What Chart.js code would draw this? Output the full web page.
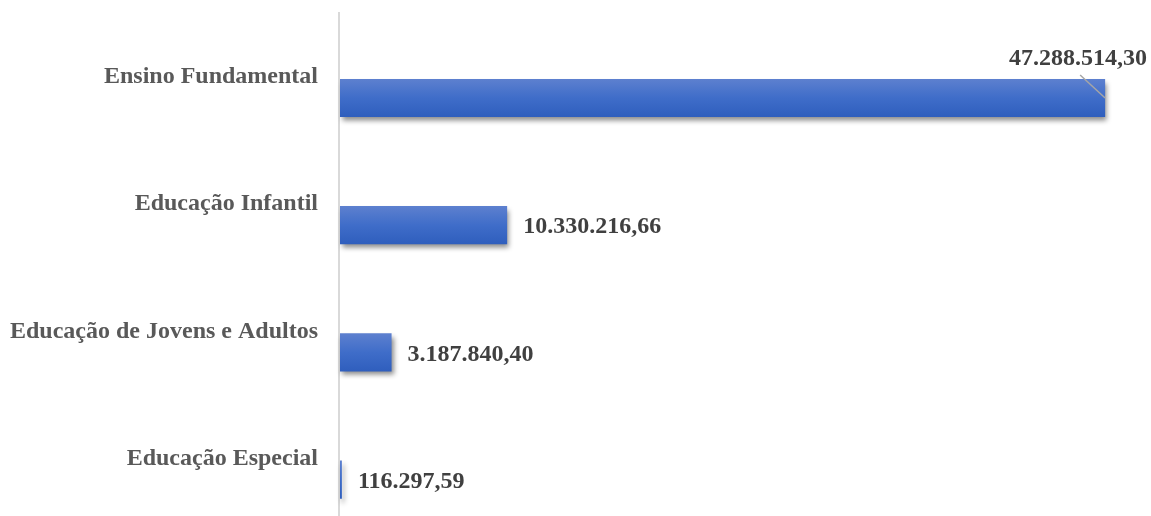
<!DOCTYPE html>
<html lang="pt-BR">
<head>
<meta charset="utf-8">
<title>Valores por etapa de ensino</title>
<script src="https://cdn.jsdelivr.net/npm/chart.js@4/dist/chart.umd.min.js"></script>
<style>
  html, body { margin: 0; padding: 0; background: #ffffff; overflow: hidden; }
  #chart { display: block; }
</style>
</head>
<body>
<canvas id="chart" width="1151" height="516"></canvas>
<script>
// Etapas de ensino e valores correspondentes (R$)
const categories = [
  'Ensino Fundamental',
  'Educação Infantil',
  'Educação de Jovens e Adultos',
  'Educação Especial'
];
const values = [47288514.30, 10330216.66, 3187840.40, 116297.59];
const axisMax = 50000000;

const SERIF = '"Liberation Serif", "Times New Roman", serif';

// Formata número no padrão brasileiro: 47.288.514,30
function formatBR(v) {
  const parts = v.toFixed(2).split('.');
  const int = parts[0].replace(/\B(?=(\d{3})+(?!\d))/g, '.');
  return int + ',' + parts[1];
}

// Sombra projetada sob as barras
const barShadow = {
  id: 'barShadow',
  beforeDatasetDraw(chart) {
    const ctx = chart.ctx;
    ctx.save();
    ctx.shadowColor = 'rgba(0,0,0,0.45)';
    ctx.shadowBlur = 5;
    ctx.shadowOffsetX = 2;
    ctx.shadowOffsetY = 4;
  },
  afterDatasetDraw(chart) {
    chart.ctx.restore();
  }
};

// Linha vertical do eixo das categorias
const axisLine = {
  id: 'axisLine',
  beforeDatasetsDraw(chart) {
    const ctx = chart.ctx;
    const x = chart.scales.x.getPixelForValue(0) - 1;
    ctx.save();
    ctx.strokeStyle = '#d9d9d9';
    ctx.lineWidth = 2;
    ctx.beginPath();
    ctx.moveTo(x, 12);
    ctx.lineTo(x, chart.height);
    ctx.stroke();
    ctx.restore();
  }
};

// Rótulos de valor ao lado de cada barra
const valueLabels = {
  id: 'valueLabels',
  afterDatasetsDraw(chart) {
    const ctx = chart.ctx;
    const meta = chart.getDatasetMeta(0);
    ctx.save();
    ctx.font = 'bold 24px ' + SERIF;
    ctx.fillStyle = '#404040';
    ctx.textBaseline = 'middle';
    meta.data.forEach((bar, i) => {
      const text = formatBR(values[i]);
      const xEnd = bar.x;
      const yc = bar.y;
      if (xEnd + 20 + ctx.measureText(text).width > chart.width) {
        // sem espaço à direita: rótulo acima com linha de chamada
        ctx.strokeStyle = '#a6a6a6';
        ctx.lineWidth = 1.5;
        ctx.beginPath();
        ctx.moveTo(xEnd, yc);
        ctx.lineTo(xEnd - 25, yc - 23);
        ctx.stroke();
        ctx.textAlign = 'right';
        ctx.fillText(text, chart.width - 4, yc - 39);
      } else {
        ctx.textAlign = 'left';
        ctx.fillText(text, xEnd + 16, yc + 2);
      }
    });
    ctx.restore();
  }
};

new Chart(document.getElementById('chart'), {
  type: 'bar',
  data: {
    labels: categories,
    datasets: [{
      data: values,
      clip: false,
      backgroundColor(ctx) {
        const chart = ctx.chart;
        const yScale = chart.scales.y;
        if (!chart.chartArea || !yScale) return '#4472c4';
        const y = yScale.getPixelForValue(ctx.dataIndex);
        const g = chart.ctx.createLinearGradient(0, y - 19, 0, y + 19);
        g.addColorStop(0, '#5d80cf');
        g.addColorStop(0.5, '#3f6dc9');
        g.addColorStop(1, '#2f5ebd');
        return g;
      },
      borderWidth: 0,
      barPercentage: 0.3,
      categoryPercentage: 1.0
    }]
  },
  options: {
    indexAxis: 'y',
    responsive: false,
    animation: false,
    // área do gráfico vai do centro da primeira ao centro da última barra
    layout: { padding: { top: 98, bottom: 35, left: 0, right: 2 } },
    plugins: {
      legend: { display: false },
      tooltip: { enabled: false }
    },
    scales: {
      x: {
        display: false,
        min: 0,
        max: axisMax
      },
      y: {
        offset: false,
        grid: { display: false, drawTicks: false },
        border: { display: false },
        afterFit(scale) { scale.width = 340; },
        ticks: {
          color: '#595959',
          font: { family: SERIF, size: 24, weight: 'bold' },
          padding: 22,
          labelOffset: -21
        }
      }
    }
  },
  plugins: [axisLine, barShadow, valueLabels]
});
</script>
</body>
</html>
